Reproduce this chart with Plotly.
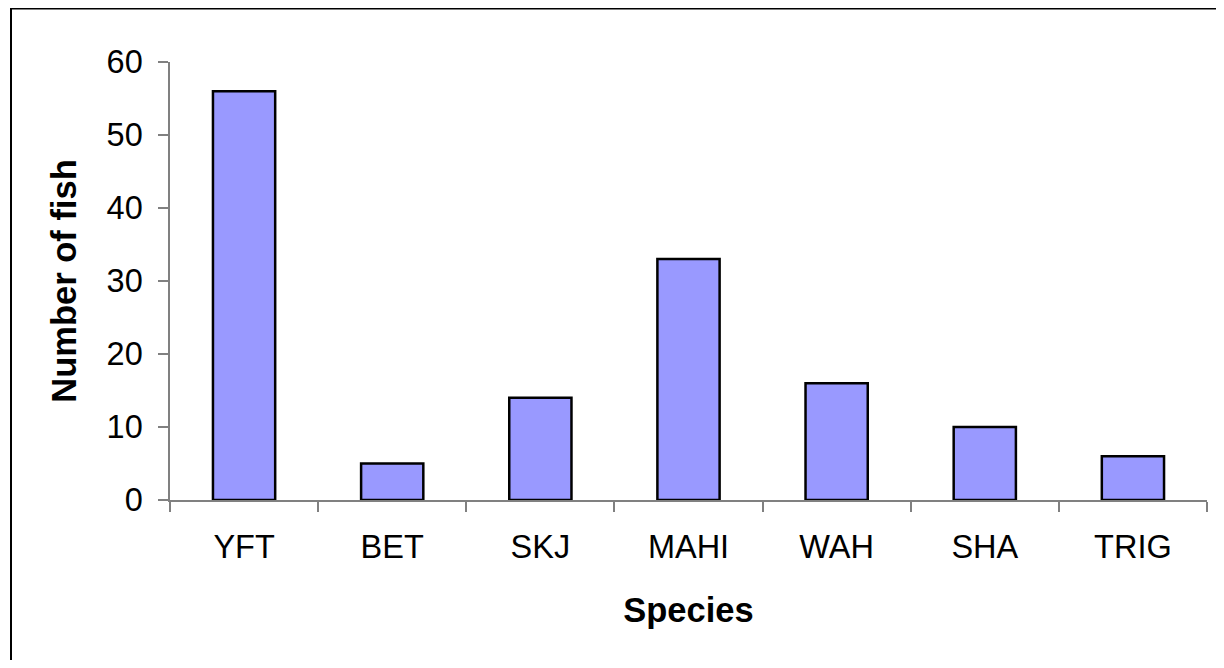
import plotly.graph_objects as go

species = ["YFT", "BET", "SKJ", "MAHI", "WAH", "SHA", "TRIG"]
counts = [56, 5, 14, 33, 16, 10, 6]
y_ticks = [0, 10, 20, 30, 40, 50, 60]

# page has an 8px body margin; figure sized to fit the window
W, H = 1208, 652
L, R, T, B = 162, 9, 54, 160
pw, ph = W - L - R, H - T - B

fig = go.Figure(go.Bar(
    x=species, y=counts,
    marker=dict(color="#9999FF", line=dict(color="black", width=2.5)),
))

def px_x(p):
    return (p - L) / pw

def px_y(p):
    return (H - B - p) / ph

fig.add_shape(type="line", xref="paper", yref="paper",
              x0=px_x(3), x1=px_x(W + 5), y0=px_y(0), y1=px_y(0),
              line=dict(color="black", width=3))
fig.add_shape(type="line", xref="paper", yref="paper",
              x0=px_x(3), x1=px_x(3), y0=px_y(0), y1=px_y(H + 5),
              line=dict(color="black", width=2))

font = "Liberation Sans, Arial, sans-serif"
fig.update_layout(
    width=W, height=H,
    margin=dict(l=L, r=R, t=T, b=B, autoexpand=False),
    paper_bgcolor="white", plot_bgcolor="white",
    bargap=0.58, showlegend=False,
    font=dict(family=font, color="black"),
    xaxis=dict(
        showline=True, linecolor="#808080", linewidth=1.5,
        ticks="outside", tickson="boundaries", ticklen=10, tickcolor="#808080", tickwidth=1.5,
        tickfont=dict(size=32.5, family=font, color="black"), ticklabelstandoff=17,
        showgrid=False, zeroline=False,
        title=dict(text="<b>Species</b>", font=dict(size=34.5, family=font, color="black"), standoff=34),
    ),
    yaxis=dict(
        range=[0, 60], tickvals=y_ticks, ticktext=[str(v) for v in y_ticks],
        showline=True, linecolor="#808080", linewidth=1.5,
        ticks="outside", ticklen=10, tickcolor="#808080", tickwidth=1.5,
        tickfont=dict(size=32.5, family=font, color="black"), ticklabelstandoff=9,
        showgrid=False, zeroline=False,
        title=dict(text="<b>Number of fish</b>", font=dict(size=34.5, family=font, color="black"), standoff=20),
    ),
)

fig.write_html("out.html")
